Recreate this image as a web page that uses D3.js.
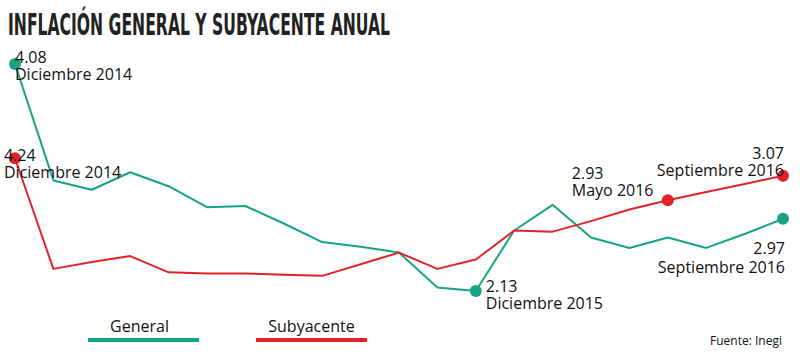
<!DOCTYPE html>
<html><head><meta charset="utf-8">
<script src="https://cdn.jsdelivr.net/npm/d3@7"></script>
<style>
html,body{margin:0;padding:0;background:#fff;}
svg{display:block;}
text{font-family:"Open Sans",sans-serif;fill:#111;}
</style></head>
<body>
<script>
const categories = ["Dic 2014","Ene 2015","Feb 2015","Mar 2015","Abr 2015","May 2015","Jun 2015","Jul 2015","Ago 2015","Sep 2015","Oct 2015","Nov 2015","Dic 2015","Ene 2016","Feb 2016","Mar 2016","Abr 2016","May 2016","Jun 2016","Jul 2016","Sep 2016"];
const general = [4.08,3.08,3.00,3.15,3.03,2.85,2.86,2.71,2.55,2.51,2.46,2.16,2.13,2.65,2.87,2.59,2.50,2.59,2.50,2.62,2.75];
const subyacente = [3.27,2.32,2.38,2.43,2.29,2.28,2.28,2.27,2.26,2.36,2.46,2.32,2.40,2.65,2.64,2.73,2.83,2.91,2.98,3.05,3.12];
const seriesNames = ["General","Subyacente"];
const annotValue = ["4.08","4.24","2.13","2.93","3.07","2.97"];
const annotDate = ["Diciembre 2014","Diciembre 2014","Diciembre 2015","Mayo 2016","Septiembre 2016","Septiembre 2016"];
const annotSeries = [0,1,0,1,1,0];
const annotIndex = [0,0,12,17,20,20];

const W=800,H=360;
const colors=["#17a581","#e0232b"];
const svg=d3.select("body").append("svg").attr("width",W).attr("height",H);

svg.append("text").attr("x",8).attr("y",35)
  .style("font-family","'Liberation Sans Narrow','DejaVu Sans Condensed',sans-serif")
  .style("font-size","30px").style("font-weight","bold").style("fill","#222")
  .attr("textLength",382).attr("lengthAdjust","spacingAndGlyphs")
  .text("INFLACIÓN GENERAL Y SUBYACENTE ANUAL");

const x=d3.scalePoint().domain(categories).range([15,783]);
const y=d3.scaleLinear().domain([2.13,4.08]).range([291,64]);
const data=[general,subyacente];

const line=d3.line().x((d,i)=>x(categories[i])).y(d=>y(d));
data.forEach((s,k)=>{
  svg.append("path").datum(s).attr("d",line).attr("fill","none")
    .attr("stroke",colors[k]).attr("stroke-width",2).attr("stroke-linejoin","round");
});

const off=[
  {dx:0,dy1:-1,dy2:16,anchor:"start"},
  {dx:-11,dy1:3,dy2:20,anchor:"start"},
  {dx:10,dy1:1,dy2:18,anchor:"start"},
  {dx:-96,dy1:-21,dy2:-4,anchor:"start"},
  {dx:1,dy1:-17,dy2:0,anchor:"end"},
  {dx:2,dy1:35,dy2:54,anchor:"end"}
];
annotValue.forEach((v,i)=>{
  const s=annotSeries[i], idx=annotIndex[i];
  const px=x(categories[idx]), py=y(data[s][idx]);
  svg.append("circle").attr("cx",px).attr("cy",py).attr("r",6).attr("fill",colors[s]);
});
annotValue.forEach((v,i)=>{
  const s=annotSeries[i], idx=annotIndex[i];
  const px=x(categories[idx]), py=y(data[s][idx]);
  const o=off[i];
  svg.append("text").attr("x",px+o.dx).attr("y",py+o.dy1).attr("text-anchor",o.anchor)
    .style("font-size","16px").text(v);
  svg.append("text").attr("x",px+o.dx).attr("y",py+o.dy2).attr("text-anchor",o.anchor)
    .style("font-size","16px").text(annotDate[i]);
});

const lg=[{x1:88,x2:199},{x1:256,x2:367}];
seriesNames.forEach((n,k)=>{
  svg.append("line").attr("x1",lg[k].x1).attr("x2",lg[k].x2).attr("y1",340).attr("y2",340)
    .attr("stroke",colors[k]).attr("stroke-width",4);
  svg.append("text").attr("x",(lg[k].x1+lg[k].x2)/2+(k?0:-4)).attr("y",332).attr("text-anchor","middle")
    .style("font-size","16px").text(n);
});
svg.append("text").attr("x",782).attr("y",345).attr("text-anchor","end")
  .style("font-size","12px").text("Fuente: Inegi");
</script>
</body></html>
